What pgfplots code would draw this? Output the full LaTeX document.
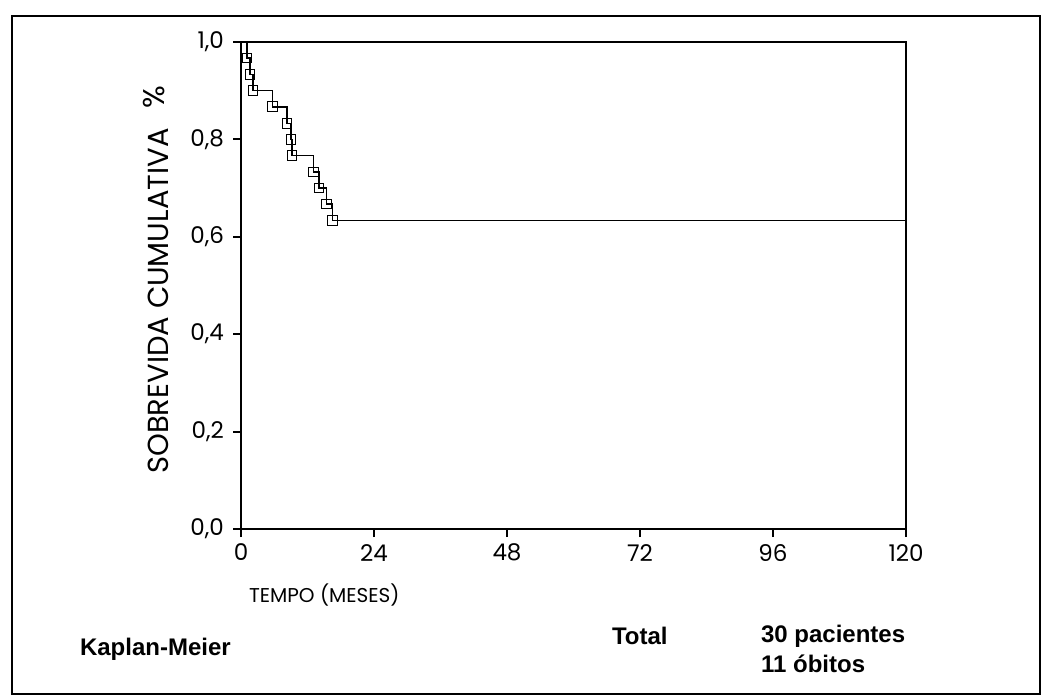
\documentclass[border=0pt]{standalone}
\usepackage{pgfplots}
\usepackage{pgfplotstable}
\pgfplotsset{compat=1.18}
\usepackage{fontspec}
\setmainfont{Liberation Sans}
\newfontfamily\gothic{Poppins}

\pgfplotstableread{
t S
0 1.000
1.1 0.967
1.6 0.933
2.2 0.900
5.7 0.867
8.3 0.833
9.0 0.800
9.2 0.767
13.1 0.733
14.1 0.700
15.4 0.667
16.5 0.633
120 0.633
}\kmdata

\begin{document}
\begin{tikzpicture}
\useasboundingbox (0,0) rectangle (523.5pt,348.5pt);
\draw[line width=0.9pt] (6pt,1.5pt) rectangle (520pt,340.5pt);
\begin{axis}[
  at={(120.5pt,84pt)}, anchor=south west,
  scale only axis, width=332.5pt, height=243.5pt,
  xmin=0, xmax=120, ymin=0, ymax=1,
  xtick={0,24,48,72,96,120},
  ytick={0,0.2,0.4,0.6,0.8,1},
  tick align=outside, tick pos=left,
  major tick length=4pt,
  axis line style={line width=1.2pt},
  every tick/.style={black, line width=0.9pt},
  /pgf/number format/assume math mode=true,
  tick label style={font=\gothic\fontsize{11.5}{13}\selectfont},
  yticklabel style={xshift=-1pt, /pgf/number format/.cd, fixed, fixed zerofill, precision=1, use comma},
  xticklabel style={/pgf/number format/.cd, fixed, precision=0},
  clip=false,
]
\addplot[const plot, black, line width=0.75pt, mark=square, mark size=2.4pt,
  mark indices={2,3,4,5,6,7,8,9,10,11,12}, mark options={line width=0.5pt, solid}]
  table[x=t, y=S] {\kmdata};
\end{axis}
\node[rotate=90, font=\gothic\fontsize{14.5}{16}\selectfont] at (79pt,198pt) {SOBREVIDA CUMULATIVA};
\node[rotate=90, font=\gothic\fontsize{15}{17}\selectfont] at (77pt,300pt) {\%};
\node[anchor=west, font=\gothic\fontsize{10}{12}\selectfont] at (121pt,51pt) {TEMPO (MESES)};
\node[anchor=west, font=\bfseries\fontsize{12}{14}\selectfont] at (36.5pt,24pt) {Kaplan-Meier};
\node[anchor=west, font=\bfseries\fontsize{12}{14}\selectfont] at (302.5pt,30.5pt) {Total};
\node[anchor=west, font=\bfseries\fontsize{12}{14}\selectfont] at (377pt,30.5pt) {30 pacientes};
\node[anchor=west, font=\bfseries\fontsize{12}{14}\selectfont] at (377pt,16.5pt) {11 óbitos};
\end{tikzpicture}
\end{document}
